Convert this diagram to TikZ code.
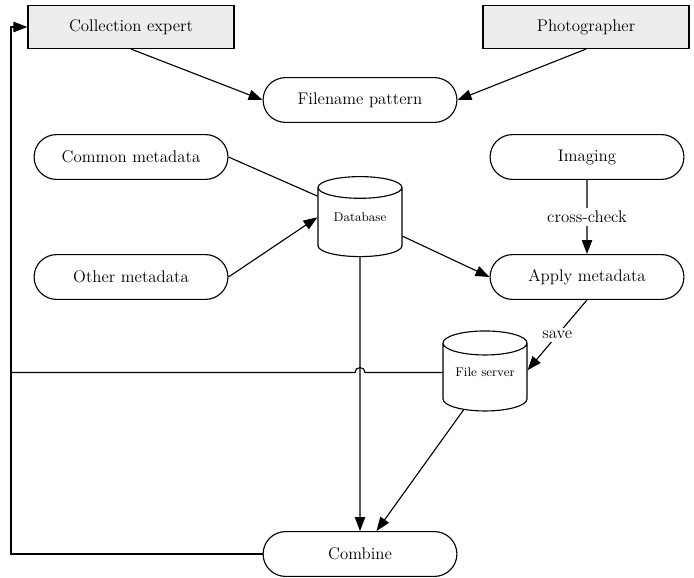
\documentclass[tikz,border=0pt]{standalone}
\usepackage{tikz}
\usetikzlibrary{arrows.meta, positioning, shapes.geometric, shapes.misc, calc}
\definecolor{actorgray}{RGB}{237, 238, 236}

\begin{document}
\begin{tikzpicture}[
        line width=0.8pt,
        actor/.style={draw, fill=actorgray, minimum width=5.15cm, minimum height=1.075cm, font=\large},
        task/.style={draw, rounded rectangle, minimum width=5.08cm, minimum height=1.12cm, font=\large},
        db/.style={draw, cylinder, shape border rotate=90, aspect=0.35, minimum width=2.1cm, minimum height=2cm, text depth=3.8mm, font=\small},
        arr/.style={-{Triangle[length=3.5mm, width=2.6mm]}},
        lbl/.style={fill=white, inner sep=2pt, font=\large}
      ]
        \useasboundingbox (0,0) rectangle (17.35,-14.425);
        \node[actor] (expert) at (3.275,-0.675) {Collection expert};
        \node[actor] (photo)  at (14.65,-0.675) {Photographer};
        \node[task]  (pattern) at (9.0,-2.5) {Filename pattern};
        \node[task]  (common) at (3.275,-3.925) {Common metadata};
        \node[task]  (other)  at (3.275,-6.925) {Other metadata};
        \node[task]  (imaging) at (14.675,-3.925) {Imaging};
        \node[task]  (apply)  at (14.675,-6.925) {Apply metadata};
        \node[db]    (dbase)  at (9.0,-5.62) {Database};
        \node[db]    (server) at (12.125,-9.5) {File server};
        \node[task]  (combine) at (9.0,-13.85) {Combine};
        \coordinate (corner) at (0.275,-13.85);
        \coordinate (hop) at (dbase.south |- server.170);
        \draw[arr] (expert.south) -- (pattern.west);
        \draw[arr] (photo.south) -- (pattern.east);
        \draw (common.east) -- (dbase.146);
        \draw[arr] (other.east) -- (dbase.170);
        \draw[arr] (dbase.345) -- (apply.west);
        \draw[arr] (imaging) -- node[lbl]{cross-check} (apply);
        \draw[arr] (apply.south) -- node[lbl]{save} (server.13);
        \draw[arr] (dbase) -- (combine);
        \draw[arr] (server) -- (combine);
        \draw[arr] (combine.west) -- (corner) |- (expert.west);
        \draw (server.170) -- ([xshift=1.25mm]hop) arc[start angle=0, end angle=180, radius=1.25mm] -- (corner |- server.170);
      \end{tikzpicture}
\end{document}
